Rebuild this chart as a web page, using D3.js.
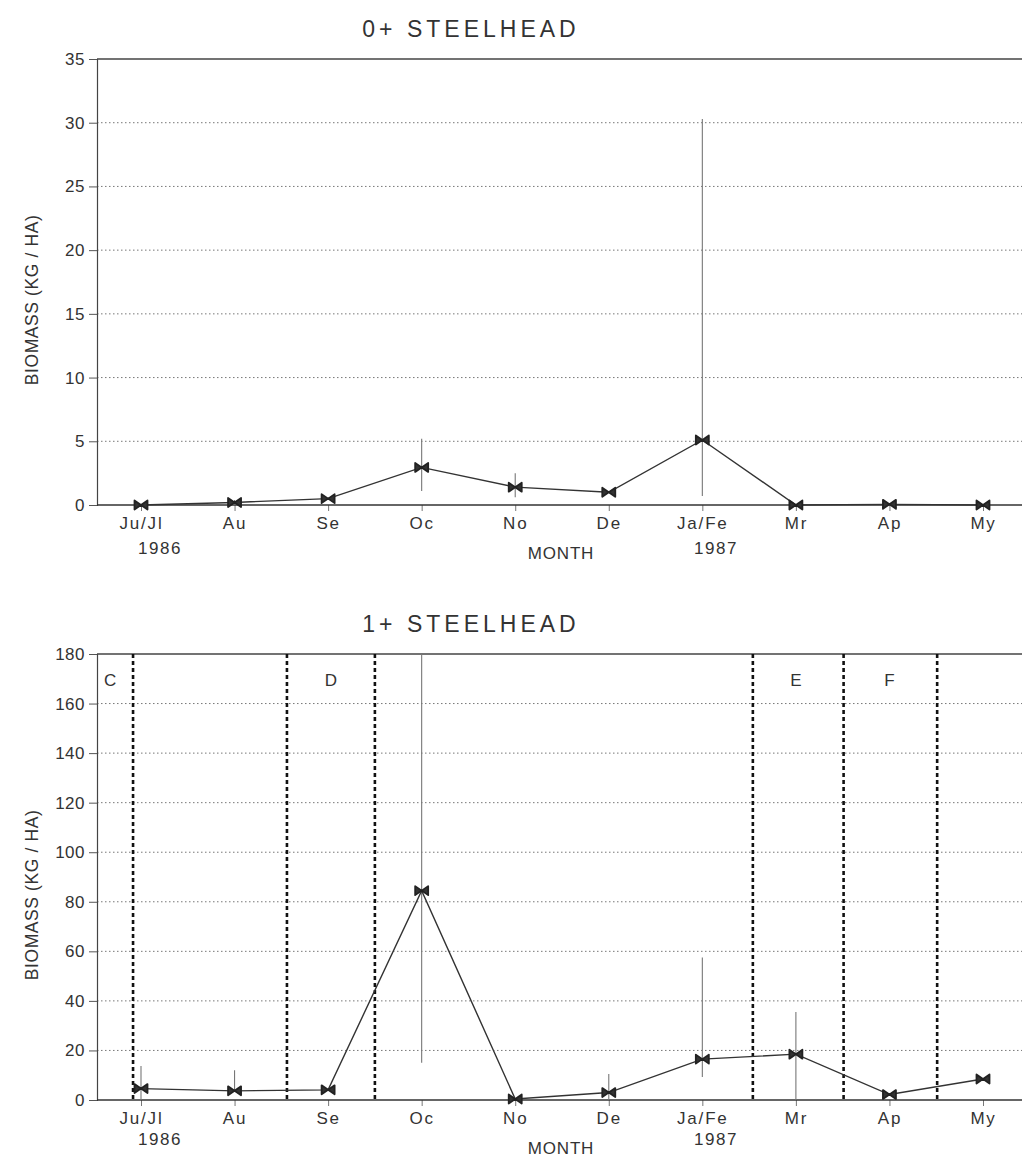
<!DOCTYPE html>
<html>
<head>
<meta charset="utf-8">
<script src="https://cdn.jsdelivr.net/npm/d3@7"></script>
<style>
  html, body { margin: 0; padding: 0; background: #fff; }
  svg { display: block; }
  text { font-family: "Liberation Sans", Arial, sans-serif; fill: #333; }
</style>
</head>
<body>
<svg id="chart" width="1022" height="1158"></svg>
<script>
// Month categories shared by both panels
const months = ["Ju/Jl", "Au", "Se", "Oc", "No", "De", "Ja/Fe", "Mr", "Ap", "My"];

// 0+ steelhead biomass (kg/ha) with error-bar limits
const age0Biomass = [0, 0.2, 0.5, 2.95, 1.4, 1.0, 5.1, 0, 0.05, 0];
const age0Low     = [0, 0.2, 0.5, 1.1, 0.6, 1.0, 0.7, 0, 0.05, 0];
const age0High    = [0, 0.4, 0.5, 5.2, 2.5, 1.0, 30.3, 0, 0.05, 0];
const age0Ticks   = [0, 5, 10, 15, 20, 25, 30, 35];

// 1+ steelhead biomass (kg/ha) with error-bar limits
const age1Biomass = [4.6, 3.7, 4.1, 84.5, 0.4, 3.0, 16.5, 18.5, 2.2, 8.5];
const age1Low     = [0, 3.7, 4.1, 15, 0.4, 0, 9.3, 0, 2.2, 8.5];
const age1High    = [13.7, 12, 4.1, 180, 0.4, 10.5, 57.5, 35.5, 2.2, 8.5];
const age1Ticks   = [0, 20, 40, 60, 80, 100, 120, 140, 160, 180];

// Period boundaries (position in month units) and period letters for the 1+ panel
const periodBreaks = [-0.085, 1.56, 2.50, 6.54, 7.51, 8.51];
const periodLetters = ["C", "D", "E", "F"];
const periodLetterPos = [-0.33, 2.03, 7.0, 8.0];

const svg = d3.select("#chart");

const x = d3.scaleLinear().domain([0, 9]).range([141, 983]);
const xLeft = 97, xRight = 1022;

function markerPath(cx, cy) {
  // filled bow-tie "x" marker
  const w = 6.5, h = 4.5;
  return `M${cx - w},${cy - h}L${cx},${cy}L${cx - w},${cy + h}Z` +
         `M${cx + w},${cy - h}L${cx},${cy}L${cx + w},${cy + h}Z` +
         `M${cx - w},${cy - h}L${cx + w},${cy + h}M${cx - w},${cy + h}L${cx + w},${cy - h}`;
}

function panel(opts) {
  const { title, titleY, yRange, yMax, ticks, years, monthY } = opts;
  const y = d3.scaleLinear().domain([0, yMax]).range(yRange);
  const g = svg.append("g");

  // title
  g.append("text")
    .attr("x", 471).attr("y", titleY)
    .attr("text-anchor", "middle")
    .style("font-size", "23px").style("letter-spacing", "4px")
    .text(title);

  // dotted gridlines
  g.append("g").selectAll("line")
    .data(ticks.filter(t => t > 0 && t < yMax))
    .join("line")
    .attr("x1", xLeft).attr("x2", xRight)
    .attr("y1", d => y(d)).attr("y2", d => y(d))
    .attr("stroke", "#777").attr("stroke-width", 1)
    .attr("stroke-dasharray", "1.5,2.5");

  // solid top frame line
  g.append("line")
    .attr("x1", xLeft).attr("x2", xRight)
    .attr("y1", y(yMax)).attr("y2", y(yMax))
    .attr("stroke", "#444").attr("stroke-width", 1.3);

  // y axis
  const yAxis = d3.axisLeft(y).tickValues(ticks).tickSize(8).tickPadding(4).tickFormat(d3.format("d"));
  const ya = g.append("g").attr("transform", `translate(${xLeft},0)`).call(yAxis);
  ya.select(".domain").attr("stroke", "#444").attr("stroke-width", 1.2);
  ya.selectAll(".tick line").attr("stroke", "#555");
  ya.selectAll(".tick text")
    .style("font-size", "17px").style("letter-spacing", "0.5px")
    .attr("fill", "#444").style("font-family", "'Liberation Sans', Arial, sans-serif");

  // x axis
  const xAxis = d3.axisBottom(x).tickValues(d3.range(months.length))
    .tickFormat(i => months[i]).tickSize(6).tickPadding(6);
  const xa = g.append("g").attr("transform", `translate(0,${y(0)})`).call(xAxis);
  xa.select(".domain").remove();
  xa.append("line").attr("x1", xLeft).attr("x2", xRight).attr("y1", 0).attr("y2", 0)
    .attr("stroke", "#333").attr("stroke-width", 1.4);
  xa.selectAll(".tick line").attr("stroke", "#777");
  xa.selectAll(".tick text")
    .style("font-size", "17px").style("letter-spacing", "1.8px")
    .attr("fill", "#444").style("font-family", "'Liberation Sans', Arial, sans-serif");

  // year labels and axis title
  const small = sel => sel.attr("text-anchor", "middle").style("font-size", "17px")
    .style("letter-spacing", "1.5px").attr("fill", "#444");
  g.append("text").attr("x", 160).attr("y", y(0) + years).call(small).text("1986");
  g.append("text").attr("x", 716).attr("y", y(0) + years).call(small).text("1987");
  g.append("text").attr("x", 561).attr("y", y(0) + monthY).call(small)
    .style("letter-spacing", "0.8px").text("MONTH");

  // y axis title
  const yc = (yRange[0] + yRange[1]) / 2 + 18;
  g.append("text")
    .attr("transform", `translate(38,${yc}) rotate(-90)`)
    .attr("text-anchor", "middle")
    .style("font-size", "17.5px").style("letter-spacing", "0.6px").attr("fill", "#444")
    .text("BIOMASS  (KG / HA)");

  return { g, y };
}

function drawSeries(p, values, low, high) {
  const { g, y } = p;
  // error bars
  g.append("g").selectAll("line")
    .data(values.map((v, i) => ({ i, lo: low[i], hi: high[i] })).filter(d => d.hi > d.lo))
    .join("line")
    .attr("x1", d => x(d.i)).attr("x2", d => x(d.i))
    .attr("y1", d => y(d.lo)).attr("y2", d => y(d.hi))
    .attr("stroke", "#777").attr("stroke-width", 1.1);

  // connecting line
  const line = d3.line().x((d, i) => x(i)).y(d => y(d));
  g.append("path").datum(values)
    .attr("d", line).attr("fill", "none")
    .attr("stroke", "#333").attr("stroke-width", 1.4);

  // markers
  g.append("g").selectAll("path")
    .data(values)
    .join("path")
    .attr("d", (d, i) => markerPath(x(i), y(d)))
    .attr("fill", "#333").attr("stroke", "#222").attr("stroke-width", 1.8)
    .attr("stroke-linejoin", "round");
}

// 0+ panel
const p0 = panel({
  title: "0+  STEELHEAD", titleY: 37,
  yRange: [505, 59], yMax: 35, ticks: age0Ticks,
  years: 49, monthY: 54
});
drawSeries(p0, age0Biomass, age0Low, age0High);

// 1+ panel
const p1 = panel({
  title: "1+  STEELHEAD", titleY: 632,
  yRange: [1100, 654], yMax: 180, ticks: age1Ticks,
  years: 45, monthY: 54
});

// period boundaries
p1.g.append("g").selectAll("line")
  .data(periodBreaks)
  .join("line")
  .attr("x1", d => x(d)).attr("x2", d => x(d))
  .attr("y1", p1.y(180)).attr("y2", p1.y(0))
  .attr("stroke", "#111").attr("stroke-width", 2.6)
  .attr("stroke-dasharray", "4,3");

p1.g.append("g").selectAll("text")
  .data(periodLetters)
  .join("text")
  .attr("x", (d, i) => x(periodLetterPos[i]))
  .attr("y", p1.y(180) + 32)
  .attr("text-anchor", "middle")
  .style("font-size", "17px").attr("fill", "#444")
  .text(d => d);

drawSeries(p1, age1Biomass, age1Low, age1High);
</script>
</body>
</html>
